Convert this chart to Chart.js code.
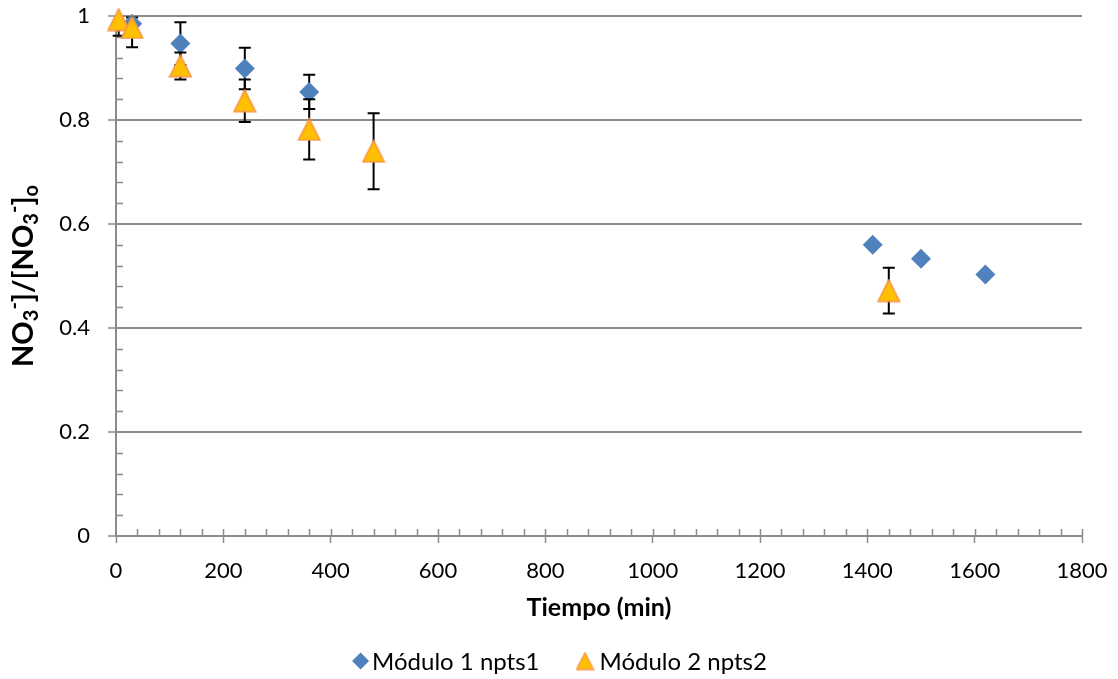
<!DOCTYPE html>
<html>
<head>
<meta charset="utf-8">
<script src="https://cdn.jsdelivr.net/npm/chart.js@4"></script>
<style>
  html, body { margin: 0; padding: 0; background: #fff; }
</style>
</head>
<body>
<canvas id="chart" width="1118" height="679"></canvas>
<script>
// Módulo 1 npts1 (diamonds)
var tiempo1 = [30, 120, 240, 360, 1410, 1500, 1620];
var modulo1 = [0.985, 0.947, 0.899, 0.854, 0.560, 0.533, 0.503];
var error1 = [0.012, 0.041, 0.040, 0.033, 0, 0, 0];

// Módulo 2 npts2 (triangles)
var tiempo2 = [5, 30, 120, 240, 360, 480, 1440];
var modulo2 = [0.993, 0.978, 0.904, 0.837, 0.782, 0.740, 0.472];
var error2 = [0.031, 0.038, 0.026, 0.041, 0.058, 0.073, 0.044];

var seriesNames = ['Módulo 1 npts1', 'Módulo 2 npts2'];
var xTicks = [0, 200, 400, 600, 800, 1000, 1200, 1400, 1600, 1800];
var yTicks = [0, 0.2, 0.4, 0.6, 0.8, 1];
var xMinorStep = 40;
var yMinorStep = 0.04;

var FONT = 'Lato';
var AXIS_GRAY = '#8c8c8c';

function toPoints(xs, ys) {
  return xs.map(function (x, i) { return { x: x, y: ys[i] }; });
}

function triangleImage(size, lw) {
  var c = document.createElement('canvas');
  c.width = size; c.height = size;
  var g = c.getContext('2d');
  var m = lw / 2 + 0.5;
  g.beginPath();
  g.moveTo(size / 2, m);
  g.lineTo(size - m, size - m);
  g.lineTo(m, size - m);
  g.closePath();
  g.fillStyle = '#FFC000';
  g.fill();
  g.lineWidth = lw;
  g.strokeStyle = '#F79646';
  g.stroke();
  return c;
}

var triBig = triangleImage(24, 1.6);
var triSmall = triangleImage(19, 1.4);

// error bars, drawn just before each dataset's markers
var errorBars = {
  id: 'errorBars',
  beforeDatasetDraw: function (chart, args) {
    var errs = [error1, error2][args.index];
    var ds = chart.data.datasets[args.index];
    var xs = chart.scales.x, ys = chart.scales.y;
    var area = chart.chartArea;
    var ctx = chart.ctx;
    ctx.save();
    ctx.beginPath();
    ctx.rect(area.left - 20, area.top, area.right - area.left + 40, area.bottom - area.top);
    ctx.clip();
    ctx.strokeStyle = '#000';
    ctx.lineWidth = 2;
    ds.data.forEach(function (p, i) {
      var e = errs[i];
      if (!e) return;
      var px = xs.getPixelForValue(p.x);
      var top = ys.getPixelForValue(p.y + e);
      var bot = ys.getPixelForValue(p.y - e);
      ctx.beginPath();
      ctx.moveTo(px, top); ctx.lineTo(px, bot);
      ctx.moveTo(px - 6, top); ctx.lineTo(px + 6, top);
      ctx.moveTo(px - 6, bot); ctx.lineTo(px + 6, bot);
      ctx.stroke();
    });
    ctx.restore();
  }
};

// inner tick marks (major and minor) like the spreadsheet axes
var innerTicks = {
  id: 'innerTicks',
  beforeDatasetsDraw: function (chart) {
    var xs = chart.scales.x, ys = chart.scales.y;
    var ctx = chart.ctx;
    var x0 = xs.getPixelForValue(0), y0 = ys.getPixelForValue(0);
    ctx.save();
    ctx.strokeStyle = AXIS_GRAY;
    ctx.lineWidth = 1.5;
    ctx.beginPath();
    for (var v = xMinorStep; v < xs.max + 1e-9; v += xMinorStep) {
      var px = Math.round(xs.getPixelForValue(v)) + 0.5;
      ctx.moveTo(px, y0); ctx.lineTo(px, y0 - 7);
    }
    for (var k = 1; k * yMinorStep < ys.max - 1e-9; k++) {
      var val = k * yMinorStep;
      if (Math.abs(val / 0.2 - Math.round(val / 0.2)) < 1e-6) continue;
      var py = Math.round(ys.getPixelForValue(val)) + 0.5;
      ctx.moveTo(x0, py); ctx.lineTo(x0 + 7, py);
    }
    ctx.stroke();
    ctx.restore();
  }
};

// rotated y title with sub/superscripts
var yTitle = {
  id: 'yTitle',
  afterDraw: function (chart) {
    var ctx = chart.ctx;
    var area = chart.chartArea;
    var parts = [
      { t: 'NO', k: 0 }, { t: '3', k: -1 }, { t: '-', k: 1 },
      { t: ']/[NO', k: 0 }, { t: '3', k: -1 }, { t: '-', k: 1 },
      { t: ']', k: 0 }, { t: 'o', k: -1 }
    ];
    var big = 'bold 29px ' + FONT, small = 'bold 20px ' + FONT;
    ctx.save();
    var total = 0;
    parts.forEach(function (p) {
      ctx.font = p.k ? small : big;
      p.w = ctx.measureText(p.t).width;
      total += p.w;
    });
    ctx.translate(33, (area.top + area.bottom) / 2);
    ctx.rotate(-Math.PI / 2);
    ctx.fillStyle = '#000';
    ctx.textBaseline = 'alphabetic';
    var x = -total / 2;
    parts.forEach(function (p) {
      ctx.font = p.k ? small : big;
      var dy = p.k === -1 ? 5 : (p.k === 1 ? -12 : 0);
      ctx.fillText(p.t, x, dy);
      x += p.w;
    });
    ctx.restore();
  }
};

// legend under the x title
var bottomLegend = {
  id: 'bottomLegend',
  afterDraw: function (chart) {
    var ctx = chart.ctx;
    var cy = 661;
    ctx.save();
    ctx.font = '24px ' + FONT;
    ctx.textBaseline = 'middle';
    var w1 = ctx.measureText(seriesNames[0]).width;
    var w2 = ctx.measureText(seriesNames[1]).width;
    var total = 17 + 3 + w1 + 36 + 19 + 5 + w2;
    var x = 559.5 - total / 2;
    ctx.fillStyle = '#4F81BD';
    ctx.beginPath();
    ctx.moveTo(x + 8.5, cy - 8.5); ctx.lineTo(x + 17, cy);
    ctx.lineTo(x + 8.5, cy + 8.5); ctx.lineTo(x, cy);
    ctx.closePath(); ctx.fill();
    x += 20;
    ctx.fillStyle = '#000';
    ctx.fillText(seriesNames[0], x, cy + 1);
    x += w1 + 36;
    ctx.drawImage(triSmall, x, cy - 9.5);
    x += 24;
    ctx.fillText(seriesNames[1], x, cy + 1);
    ctx.restore();
  }
};

var ctx = document.getElementById('chart').getContext('2d');
new Chart(ctx, {
  type: 'scatter',
  data: {
    datasets: [
      {
        label: seriesNames[0],
        data: toPoints(tiempo1, modulo1),
        pointStyle: 'rectRot',
        pointRadius: 10,
        backgroundColor: '#4F81BD',
        borderColor: '#4F81BD',
        borderWidth: 0,
        clip: false,
        order: 1
      },
      {
        label: seriesNames[1],
        data: toPoints(tiempo2, modulo2),
        pointStyle: triBig,
        pointRadius: 12,
        backgroundColor: '#FFC000',
        borderColor: '#F79646',
        clip: false,
        order: 0
      }
    ]
  },
  options: {
    responsive: false,
    animation: false,
    devicePixelRatio: 1,
    events: [],
    layout: { autoPadding: false, padding: { left: 0, right: 36, top: 16, bottom: 43 } },
    plugins: {
      legend: { display: false },
      tooltip: { enabled: false }
    },
    scales: {
      x: {
        type: 'linear',
        min: 0,
        max: 1800,
        afterBuildTicks: function (s) { s.ticks = xTicks.map(function (v) { return { value: v }; }); },
        afterFit: function (s) {
          s.height = 100;
          s.paddingLeft = 0; s.paddingRight = 0; s.paddingTop = 0; s.paddingBottom = 0;
        },
        grid: {
          drawOnChartArea: false,
          drawTicks: true,
          tickLength: 7,
          tickWidth: 1.5,
          tickColor: AXIS_GRAY
        },
        border: { color: AXIS_GRAY, width: 2 },
        ticks: {
          color: '#000',
          padding: 15,
          maxRotation: 0,
          font: { family: FONT, size: 22 },
          callback: function (v) { return String(v); }
        },
        title: {
          display: true,
          text: 'Tiempo (min)',
          color: '#000',
          font: { family: FONT, size: 25, weight: 'bold', lineHeight: 1.2 },
          padding: { top: 0, bottom: 13 }
        }
      },
      y: {
        type: 'linear',
        min: 0,
        max: 1,
        afterBuildTicks: function (s) { s.ticks = yTicks.map(function (v) { return { value: v }; }); },
        afterFit: function (s) {
          s.width = 116;
          s.paddingLeft = 0; s.paddingRight = 0; s.paddingTop = 0; s.paddingBottom = 0;
        },
        grid: {
          color: AXIS_GRAY,
          lineWidth: 2,
          drawTicks: true,
          tickLength: 8,
          tickWidth: 1.5,
          tickColor: AXIS_GRAY
        },
        border: { color: AXIS_GRAY, width: 2 },
        ticks: {
          color: '#000',
          padding: 18,
          font: { family: FONT, size: 22 },
          callback: function (v) { return String(v); }
        }
      }
    }
  },
  plugins: [errorBars, innerTicks, yTitle, bottomLegend]
});
</script>
</body>
</html>
